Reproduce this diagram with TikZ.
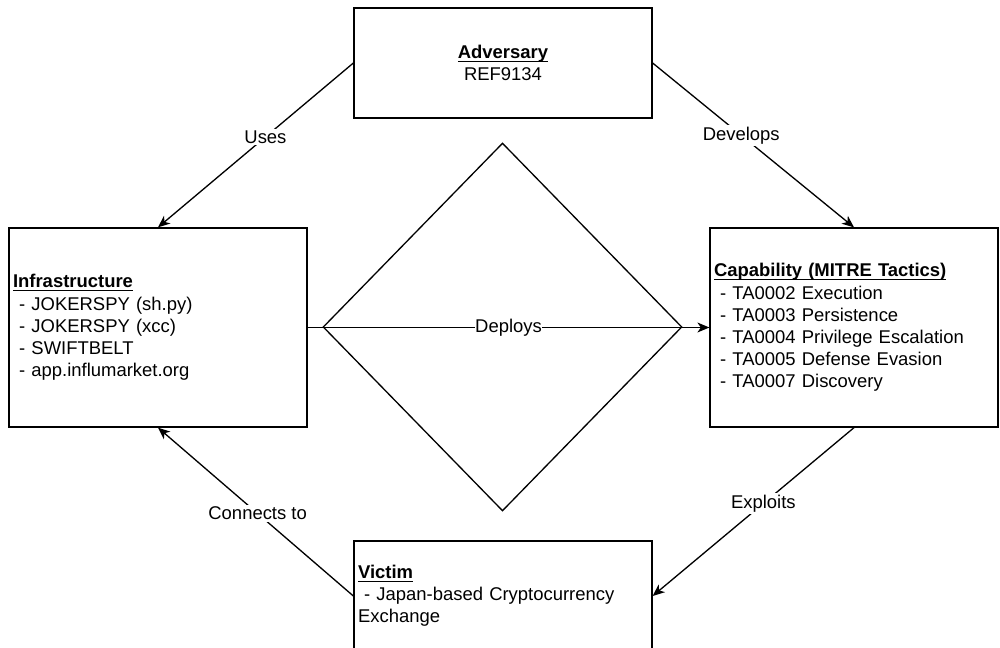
\documentclass[tikz,border=0pt]{standalone}
\usepackage{fontspec}
\setmainfont{Liberation Sans}
\usetikzlibrary{arrows.meta,shapes.geometric}
\newcommand\headtitle[1]{\underline{\raisebox{0pt}[\height][0pt]{\textbf{#1}}}}
\begin{document}
\begin{tikzpicture}[x=0.02cm,y=-0.02cm,line width=0.75pt,
  every node/.style={font=\fontsize{10.5}{12.6}\selectfont},
  entity/.style={draw,rectangle,inner xsep=0.08cm,inner ysep=0pt,minimum height=#1},
  leftbox/.style={entity=#1,align=left},
  rel/.style={-{Stealth[length=0.24cm,width=0.2cm,inset=0.07cm]}},
  lbl/.style={fill=white,inner sep=1pt}]
 \useasboundingbox (0,0) rectangle (1000,648);
 % relationship diamond
 \node[draw,diamond,inner sep=0pt,minimum width=7.18cm,minimum height=7.36cm] (dia) at (502.5,327) {};
 % entities
 \node[entity=2.2cm,minimum width=5.96cm,align=center] (adv) at (503,63)
   {\headtitle{Adversary}\\REF9134};
 \node[leftbox=3.98cm,text width=5.8cm] (infra) at (158,327.5)
   {\headtitle{Infrastructure}\\
    \ - JOKERSPY (sh.py)\\
    \ - JOKERSPY (xcc)\\
    \ - SWIFTBELT\\
    \ - app.influmarket.org};
 \node[leftbox=3.98cm,text width=5.6cm] (cap) at (854,327.5)
   {\headtitle{Capability (MITRE Tactics)}\\
    \ - TA0002 Execution\\
    \ - TA0003 Persistence\\
    \ - TA0004 Privilege Escalation\\
    \ - TA0005 Defense Evasion\\
    \ - TA0007 Discovery};
 \node[leftbox=2.2cm,text width=5.8cm] (vic) at (503,596)
   {\headtitle{Victim}\\
    \ - Japan-based Cryptocurrency\\
    Exchange};
 % connectors
 \draw[rel] (adv.west) -- node[lbl,pos=0.45] {Uses} (infra.north);
 \draw[rel] (adv.east) -- node[lbl,pos=0.44] {Develops} (cap.north);
 \draw[rel] (infra.east) -- node[lbl,inner sep=0pt] {Deploys} (cap.west);
 \draw[rel] (cap.south) -- node[lbl,pos=0.45] {Exploits} (vic.east);
 \draw[rel] (vic.west) -- node[lbl,pos=0.49] {Connects to} (infra.south);
\end{tikzpicture}
\end{document}
